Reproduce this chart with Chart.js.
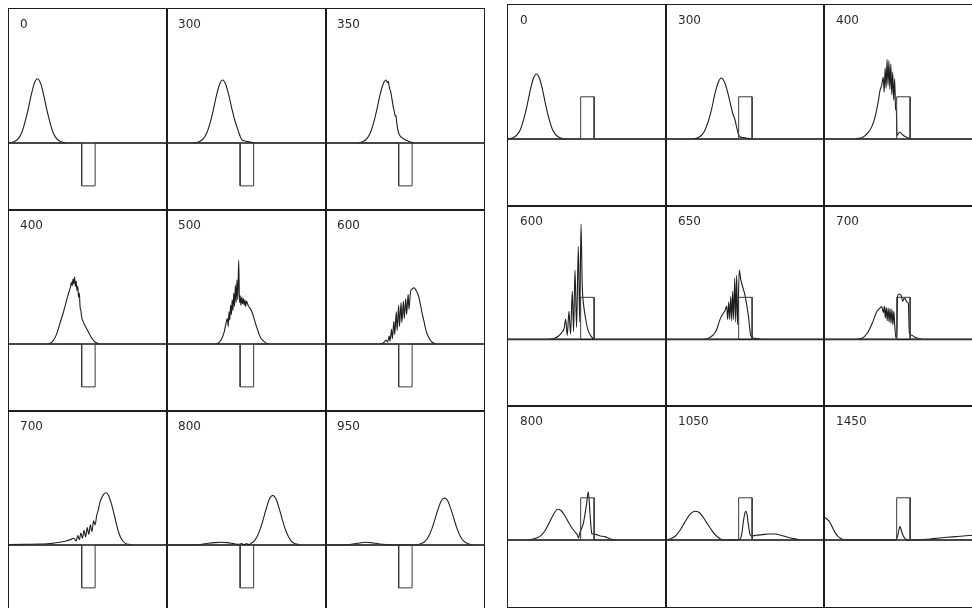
<!DOCTYPE html>
<html lang="en">
<head>
<meta charset="UTF-8">
<title>Wave packet on a well and on a barrier</title>
<script src="https://cdn.jsdelivr.net/npm/chart.js"></script>
<style>
  body { margin: 0; background: #fff; width: 972px; height: 608px; overflow: hidden; position: relative; }
  .cell { position: absolute; outline: 1.5px solid #1e1e1e; outline-offset: -0.75px; }
  .cell canvas { position: absolute; left: 0; top: 0; }
  .lbl { position: absolute; font-family: "DejaVu Sans", sans-serif; font-size: 12px; line-height: 1; color: #2a2a2a; }
</style>
</head>
<body>
<script>
// time step of each frame
const wellTimes = ['0', '300', '350', '400', '500', '600', '700', '800', '950'];
const barrierTimes = ['0', '300', '400', '600', '650', '700', '800', '1050', '1450'];

// potential shape (x from 0 to 100 across a frame)
const potX = [0, 46, 46, 54.5, 54.5, 100];
const wellDepth = [0, 0, -0.64, -0.64, 0, 0];
const barrierHeight = [0, 0, 0.63, 0.63, 0, 0];

// |psi|^2 read from the well frames
const well0X = [0, 2, 4, 6, 8, 10, 12, 14, 16, 18, 20, 22, 24, 26, 28, 30, 32, 34, 36];
const well0Y = [0, .01, .03, .07, .15, .30, .49, .71, .89, .96, .89, .71, .49, .30, .15, .07, .03, .01, 0];
const well300X = [17, 19, 21, 23, 25, 27, 29, 31, 33, 35, 37, 39, 41, 43, 45, 46, 47, 49, 51, 53, 55];
const well300Y = [0, .01, .03, .07, .15, .29, .48, .70, .87, .94, .87, .70, .49, .31, .17, .10, .05, .03, .02, .01, 0];
const well350X = [20, 22, 24, 26, 28, 30, 32, 34, 36, 38, 39, 39.5, 40, 41, 42, 42.7, 43.3, 43.8, 44.3, 44.8, 45.6, 46.5, 48, 50, 52, 54, 56];
const well350Y = [0, .01, .03, .07, .15, .29, .48, .70, .87, .94, .90, .92, .84, .76, .62, .52, .46, .40, .41, .30, .18, .12, .08, .05, .03, .01, 0];
const well400X = [24, 26, 28, 30, 32, 34, 36, 37, 38, 39, 39.5, 40, 40.5, 41, 41.5, 42, 42.5, 43, 43.5, 44, 44.5, 45, 45.5, 46, 47, 48, 50, 52, 54, 56, 57];
const well400Y = [0, .01, .05, .14, .29, .44, .61, .70, .78, .86, .92, .87, .97, .90, 1.0, .86, .94, .80, .86, .70, .76, .55, .50, .40, .33, .28, .19, .10, .04, .01, 0];
const well500X = [30, 32, 34, 36, 37, 38, 38.5, 39, 39.5, 40, 40.5, 41, 41.5, 42, 42.5, 43, 43.5, 44, 44.5, 45.1, 45.6, 46, 46.5, 47, 47.5, 48, 48.5, 49, 49.5, 50, 51, 52, 53, 54, 55, 56, 57, 58, 59, 60, 62, 64];
const well500Y = [0, .01, .06, .18, .30, .38, .26, .48, .36, .58, .44, .66, .50, .76, .56, .88, .62, .96, .66, 1.25, .62, .72, .58, .70, .60, .68, .58, .66, .56, .64, .58, .54, .50, .44, .36, .28, .21, .14, .09, .06, .02, 0];
const well600X = [34, 36, 37, 38, 39, 40, 40.5, 41.5, 42, 43, 43.5, 44.5, 45, 46, 46.5, 47.5, 48, 49, 49.5, 50.5, 51, 52, 52.5, 53.5, 54.5, 55.7, 57, 58.5, 60, 61, 62, 63, 64, 65, 66, 67, 68.5, 70];
const well600Y = [0, .01, .03, .06, .03, .12, .04, .22, .08, .34, .14, .48, .20, .58, .26, .62, .32, .64, .38, .68, .44, .74, .52, .78, .82, .84, .80, .72, .56, .44, .34, .23, .15, .10, .06, .03, .01, 0];
const well700X = [0, 10, 20, 26, 32, 36, 39, 41, 42.5, 43.5, 44.5, 45.5, 46.5, 47.5, 48.5, 49.5, 50.5, 51.5, 52.5, 53.5, 54.5, 55.5, 56.5, 57.6, 59, 60, 61.4, 63, 64.5, 66, 67.5, 69, 70.5, 72, 74, 76, 78];
const well700Y = [.005, .01, .015, .02, .04, .06, .08, .10, .06, .14, .08, .18, .10, .22, .12, .26, .16, .30, .20, .36, .30, .44, .52, .64, .72, .76, .78, .74, .64, .51, .36, .22, .12, .06, .02, .01, 0];
const well800X = [0, 18, 22, 26, 30, 34, 38, 42, 45, 47, 48.5, 50, 51.5, 52.5, 54.5, 56.5, 58.5, 60.5, 62.5, 64.5, 66.5, 68.5, 70.5, 72.5, 74.5, 76.5, 78.5, 80.5, 82.5, 84];
const well800Y = [0, 0, .01, .025, .035, .04, .035, .02, .01, .02, .005, .02, .005, .02, .05, .12, .23, .38, .55, .69, .74, .69, .55, .38, .23, .12, .05, .02, .01, 0];
const well950X = [0, 12, 16, 20, 25, 30, 34, 38, 42, 57, 59, 61, 63, 65, 67, 69, 71, 73, 75, 77, 79, 81, 83, 85, 87, 89, 91, 93];
const well950Y = [0, 0, .01, .025, .04, .03, .015, .005, 0, 0, .01, .03, .06, .13, .24, .39, .54, .66, .70, .66, .54, .39, .24, .13, .06, .03, .01, 0];

// |psi|^2 read from the barrier frames
const bar0X = [0, 2, 4, 6, 8, 10, 12, 14, 16, 18, 20, 22, 24, 26, 28, 30, 32, 34, 36];
const bar0Y = [0, .01, .03, .07, .15, .30, .49, .72, .90, .97, .90, .72, .49, .30, .15, .07, .03, .01, 0];
const bar300X = [17, 19, 21, 23, 25, 27, 29, 31, 33, 35, 37, 39, 41, 42.5, 43.5, 44.5, 45.5, 46.2, 47, 49, 52, 54.5];
const bar300Y = [0, .01, .03, .07, .15, .28, .46, .68, .84, .91, .85, .70, .50, .36, .30, .20, .10, .05, .03, .02, .01, 0];
const bar400X = [20, 22, 24, 26, 28, 30, 32, 33.2, 34.5, 35.4, 36.5, 37.5, 38.1, 38.7, 39.3, 39.9, 40.5, 41.1, 41.7, 42.3, 42.9, 43.5, 44.1, 44.7, 45.3, 45.8, 46.2, 47, 48, 49.5, 51, 53, 55];
const bar400Y = [0, .01, .02, .05, .10, .17, .30, .42, .58, .72, .80, .92, .70, 1.06, .76, 1.19, .80, 1.17, .74, 1.12, .66, 1.00, .58, .90, .45, .42, .05, .08, .10, .07, .04, .02, 0];
const bar600X = [26, 28.5, 30, 32, 34, 35.5, 36.5, 37.5, 38.6, 39.6, 40.7, 41.5, 42.4, 43.4, 44.5, 45.4, 46.2, 47, 47.7, 48.5, 49.5, 50.5, 52, 53.5, 55];
const bar600Y = [0, .01, .02, .05, .10, .16, .30, .06, .42, .08, .72, .12, 1.04, .18, 1.39, .26, 1.73, .80, .55, .40, .26, .15, .07, .02, 0];
const bar650X = [24, 26, 28, 30, 32, 34.2, 36, 37.5, 38.4, 39, 39.7, 40.3, 41, 41.6, 42.2, 42.8, 43.5, 44.1, 44.7, 45.3, 46.4, 47.3, 50, 52.1, 53.6, 55, 58, 60];
const bar650Y = [0, .01, .03, .07, .14, .30, .38, .44, .50, .30, .56, .30, .64, .28, .72, .30, .92, .26, .96, .22, 1.04, .90, .66, .36, .06, .02, .01, 0];
const bar700X = [21, 23, 25, 27, 29, 31, 33.3, 35, 36.5, 37.6, 38.2, 38.8, 39.4, 40, 40.6, 41.2, 41.8, 42.4, 43, 43.6, 44.2, 44.8, 45.5, 46.2, 46.5, 47.5, 48.8, 49.8, 50.8, 51.6, 52.5, 53.4, 54, 55.5, 57.5, 60, 62];
const bar700Y = [0, .01, .03, .08, .16, .27, .41, .46, .49, .40, .50, .32, .48, .28, .47, .26, .46, .24, .45, .22, .42, .20, .02, .02, .64, .68, .66, .57, .62, .60, .56, .54, .10, .06, .03, .01, 0];
const bar800X = [13, 15.2, 18, 21, 24, 27, 29.5, 31.4, 33.5, 35.5, 38.2, 40.5, 42.4, 44, 44.6, 45.6, 46.7, 47.7, 49.8, 50.8, 51.9, 53, 53.6, 56, 58.5, 61.4, 64.5, 67.7];
const bar800Y = [0, .01, .03, .07, .16, .30, .41, .46, .44, .38, .27, .18, .12, .07, .03, .12, .18, .25, .55, .72, .40, .10, .09, .08, .06, .05, .02, 0];
const bar1050X = [0, 3, 6, 9, 12, 15, 18.4, 21, 23.5, 25.7, 28, 30, 32, 34.2, 36, 44, 46.8, 48, 49, 50, 50.6, 51.3, 52.2, 53.2, 54, 57, 61, 65, 69, 73, 77, 81, 85];
const bar1050Y = [0, .02, .06, .15, .27, .38, .43, .41, .34, .26, .18, .11, .06, .02, 0, 0, .01, .10, .28, .41, .43, .38, .22, .08, .06, .07, .08, .09, .09, .07, .04, .02, 0];
const bar1450X = [0, 2, 3.8, 5.5, 7, 9, 11, 12.5, 44, 45.6, 46.6, 47.4, 48.1, 48.9, 50, 51.3, 53, 57, 61, 65, 69, 73.4, 78, 83, 88, 93.7, 100];
const bar1450Y = [.34, .31, .26, .18, .11, .05, .02, 0, 0, .005, .06, .15, .20, .15, .07, .02, 0, 0, .005, .01, .02, .03, .04, .05, .06, .07, .08];

const wellWaves = [[well0X, well0Y], [well300X, well300Y], [well350X, well350Y],
                   [well400X, well400Y], [well500X, well500Y], [well600X, well600Y],
                   [well700X, well700Y], [well800X, well800Y], [well950X, well950Y]];
const barrierWaves = [[bar0X, bar0Y], [bar300X, bar300Y], [bar400X, bar400Y],
                      [bar600X, bar600Y], [bar650X, bar650Y], [bar700X, bar700Y],
                      [bar800X, bar800Y], [bar1050X, bar1050Y], [bar1450X, bar1450Y]];

const panels = [
  { left: 9, top: 9, w: 158.3, h: 201, lx: 11, ly: 9, times: wellTimes, waves: wellWaves, pot: wellDepth },
  { left: 508, top: 5, w: 158, h: 200.5, lx: 12, ly: 9, times: barrierTimes, waves: barrierWaves, pot: barrierHeight }
];

function pts(xs, ys) {
  return xs.map((x, i) => ({ x: x, y: ys[i] }));
}

panels.forEach(p => {
  for (let i = 0; i < 9; i++) {
    const col = i % 3, row = Math.floor(i / 3);
    const x0 = Math.round(p.left + col * p.w), y0 = Math.round(p.top + row * p.h);
    const w = Math.round(p.left + (col + 1) * p.w) - x0;
    const h = Math.round(p.top + (row + 1) * p.h) - y0;

    const cell = document.createElement('div');
    cell.className = 'cell';
    cell.style.left = x0 + 'px';
    cell.style.top = y0 + 'px';
    cell.style.width = w + 'px';
    cell.style.height = h + 'px';
    const canvas = document.createElement('canvas');
    canvas.width = w;
    canvas.height = h;
    cell.appendChild(canvas);
    const lbl = document.createElement('div');
    lbl.className = 'lbl';
    lbl.style.left = p.lx + 'px';
    lbl.style.top = p.ly + 'px';
    lbl.textContent = p.times[i];
    cell.appendChild(lbl);
    document.body.appendChild(cell);

    const wave = p.waves[i];
    new Chart(canvas, {
      type: 'line',
      data: {
        datasets: [{
          data: pts(potX, p.pot),
          borderColor: '#3a3a3a',
          borderWidth: 1,
          pointRadius: 0,
          tension: 0
        }, {
          data: pts([0, 100], [0, 0]),
          borderColor: '#1a1a1a',
          borderWidth: 1.6,
          pointRadius: 0
        }, {
          data: pts(wave[0], wave[1]),
          borderColor: '#1e1e1e',
          borderWidth: 1.1,
          pointRadius: 0,
          cubicInterpolationMode: 'monotone'
        }]
      },
      options: {
        responsive: false,
        animation: false,
        events: [],
        layout: { padding: 0 },
        plugins: { legend: { display: false }, tooltip: { enabled: false } },
        scales: {
          x: { type: 'linear', min: 0, max: 100, display: false },
          y: { min: -1, max: 2, display: false }
        }
      }
    });
  }
});
</script>
</body>
</html>
